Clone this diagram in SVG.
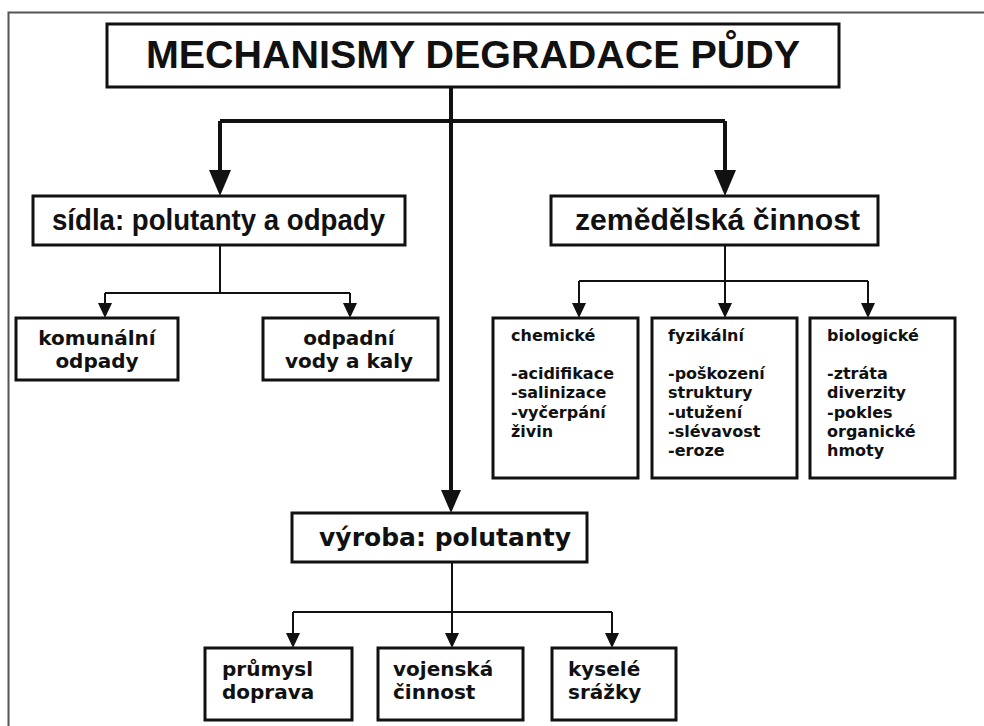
<svg xmlns="http://www.w3.org/2000/svg" width="984" height="726" viewBox="0 0 984 726">
<style>
.box{fill:#fff;stroke:#111;stroke-width:3}
.thick{fill:none;stroke:#111;stroke-width:4}
.thin{fill:none;stroke:#111;stroke-width:2}
.narrow{font-family:"Liberation Sans",Arial,sans-serif;font-weight:bold;fill:#111}
.wide{font-family:"DejaVu Sans",Verdana,sans-serif;font-weight:bold;fill:#111}
.head{fill:#111}
</style>
<rect x="0" y="0" width="984" height="726" fill="#fff"/>
<path d="M8.5,726 V12.5 H984" fill="none" stroke="#555" stroke-width="2"/>

<g id="connectors">
  <path class="thick" d="M451,87 V121 M220,121 H725 M220,121 V176 M725,121 V176 M451,87 V494"/>
  <polygon class="head" points="209,170 231,170 220,196"/>
  <polygon class="head" points="714,170 736,170 725,196"/>
  <polygon class="head" points="441,490 461,490 451,513"/>
  <path class="thin" d="M220,245 V293 M105,293 H350 M105,293 V305 M350,293 V305"/>
  <polygon class="head" points="98,303 112,303 105,318"/>
  <polygon class="head" points="343,303 357,303 350,318"/>
  <path class="thin" d="M725,245 V305 M579,281 H868 M579,281 V305 M868,281 V305"/>
  <polygon class="head" points="572,303 586,303 579,318"/>
  <polygon class="head" points="718,303 732,303 725,318"/>
  <polygon class="head" points="861,303 875,303 868,318"/>
  <path class="thin" d="M452,562 V635 M293,612 H612 M293,612 V635 M612,612 V635"/>
  <polygon class="head" points="286,633 300,633 293,648"/>
  <polygon class="head" points="445,633 459,633 452,648"/>
  <polygon class="head" points="605,633 619,633 612,648"/>
</g>

<g id="title">
  <rect class="box" x="107" y="24" width="732" height="63"/>
  <text class="narrow" x="146" y="68" font-size="39" textLength="654" lengthAdjust="spacingAndGlyphs">MECHANISMY DEGRADACE PŮDY</text>
</g>

<g id="sidla">
  <rect class="box" x="33" y="196" width="372" height="49"/>
  <text class="narrow" x="52" y="230" font-size="29" textLength="333" lengthAdjust="spacingAndGlyphs">sídla: polutanty a odpady</text>
</g>

<g id="zemedelska">
  <rect class="box" x="551" y="196" width="327" height="49"/>
  <text class="narrow" x="575" y="230" font-size="30" textLength="285" lengthAdjust="spacingAndGlyphs">zemědělská činnost</text>
</g>

<g id="komunalni">
  <rect class="box" x="16" y="318" width="162" height="62"/>
  <text class="wide" x="97" y="345" font-size="20" text-anchor="middle">komunální</text>
  <text class="wide" x="97" y="368" font-size="20" text-anchor="middle">odpady</text>
</g>

<g id="odpadni">
  <rect class="box" x="263" y="318" width="175" height="62"/>
  <text class="wide" x="349" y="345" font-size="20" text-anchor="middle">odpadní</text>
  <text class="wide" x="349" y="368" font-size="20" text-anchor="middle">vody a kaly</text>
</g>

<g id="chemicke">
  <rect class="box" x="493" y="318" width="145" height="160"/>
  <text class="wide" font-size="16"><tspan x="511" y="341">chemické</tspan><tspan x="511" y="379">-acidifikace</tspan><tspan x="511" y="398">-salinizace</tspan><tspan x="511" y="418">-vyčerpání</tspan><tspan x="511" y="437">živin</tspan></text>
</g>

<g id="fyzikalni">
  <rect class="box" x="652" y="318" width="145" height="160"/>
  <text class="wide" font-size="16"><tspan x="668" y="341">fyzikální</tspan><tspan x="668" y="379">-poškození</tspan><tspan x="668" y="398">struktury</tspan><tspan x="668" y="418">-utužení</tspan><tspan x="668" y="437">-slévavost</tspan><tspan x="668" y="456">-eroze</tspan></text>
</g>

<g id="biologicke">
  <rect class="box" x="810" y="318" width="145" height="160"/>
  <text class="wide" font-size="16"><tspan x="827" y="341">biologické</tspan><tspan x="827" y="379">-ztráta</tspan><tspan x="827" y="398">diverzity</tspan><tspan x="827" y="418">-pokles</tspan><tspan x="827" y="437">organické</tspan><tspan x="827" y="456">hmoty</tspan></text>
</g>

<g id="vyroba">
  <rect class="box" x="292" y="513" width="295" height="49"/>
  <text class="wide" x="445" y="546" font-size="25" text-anchor="middle">výroba: polutanty</text>
</g>

<g id="prumysl">
  <rect class="box" x="205" y="648" width="147" height="72"/>
  <text class="wide" font-size="20"><tspan x="222" y="676">průmysl</tspan><tspan x="222" y="699">doprava</tspan></text>
</g>

<g id="vojenska">
  <rect class="box" x="378" y="648" width="145" height="72"/>
  <text class="wide" font-size="20"><tspan x="393" y="676">vojenská</tspan><tspan x="393" y="699">činnost</tspan></text>
</g>

<g id="kysele">
  <rect class="box" x="552" y="648" width="124" height="72"/>
  <text class="wide" font-size="20"><tspan x="568" y="676">kyselé</tspan><tspan x="568" y="699">srážky</tspan></text>
</g>
</svg>
